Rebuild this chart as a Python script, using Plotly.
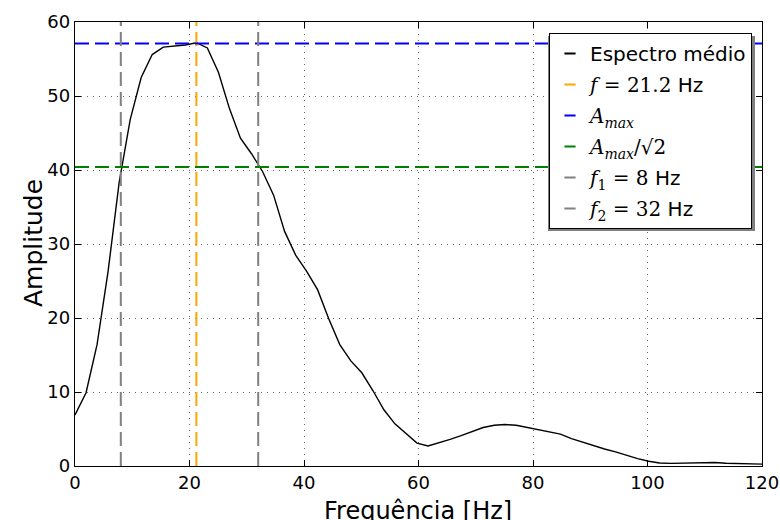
import plotly.graph_objects as go

# ---- data ----
freq = [0.0, 1.93, 3.85, 5.78, 7.71, 9.64, 11.56, 13.49, 15.42, 17.34,
        19.27, 21.2, 23.12, 25.05, 26.98, 28.9, 30.83, 32.76, 34.69, 36.61,
        38.54, 40.47, 42.39, 44.32, 46.25, 48.18, 50.1, 52.03, 53.96, 55.88,
        57.81, 59.74, 61.66, 63.59, 65.52, 67.44, 69.37, 71.3, 73.23, 75.15,
        77.08, 79.0, 80.94, 82.86, 84.79, 86.72, 88.64, 90.57, 92.5, 94.42,
        96.35, 98.28, 100.2, 102.1, 104.1, 106.0, 107.9, 109.8, 111.8, 113.7,
        115.6, 117.5, 119.5, 120.0]
amplitude = [6.9, 9.9, 16.4, 26.3, 38.3, 46.8, 52.5, 55.6, 56.6, 56.7,
             56.9, 57.2, 56.5, 53.2, 48.3, 44.3, 42.2, 39.8, 36.6, 31.7,
             28.5, 26.3, 23.8, 19.9, 16.4, 14.2, 12.6, 10.2, 7.6, 5.7,
             4.4, 3.1, 2.7, 3.1, 3.6, 4.1, 4.6, 5.2, 5.5, 5.6,
             5.5, 5.2, 5.0, 4.7, 4.3, 3.7, 3.2, 2.8, 2.3, 1.9,
             1.4, 1.0, 0.65, 0.4, 0.35, 0.38, 0.45, 0.5, 0.47, 0.38,
             0.32, 0.28, 0.25, 0.25]

f_peak = 21.2
a_max = 57.1
a_half = 40.4
f1 = 8
f2 = 32

x_ticks = [0, 20, 40, 60, 80, 100, 120]
y_ticks = [0, 10, 20, 30, 40, 50, 60]

x_title = "Frequência [Hz]"
y_title = "Amplitude"

x_lim = [x_ticks[0], x_ticks[-1]]
y_lim = [y_ticks[0], y_ticks[-1]]

FONT = "DejaVu Sans"
SERIF = "DejaVu Serif"
DASH = "14px,6px"

L, R, T, B = 75, 18, 22, 54
PW, PH = 780 - L - R, 520 - T - B


def px_x(p):
    return (p - L) / PW


def px_y(p):
    return 1 - (p - T) / PH


def m(s):
    return '<span style="font-family:%s">%s</span>' % (SERIF, s)


labels = [
    "Espectro médio",
    m("<i>f</i> = 21.2") + " Hz",
    m("<i>A</i><sub><i>max</i></sub>"),
    m("<i>A</i><sub><i>max</i></sub>/√2"),
    m("<i>f</i><sub>1</sub> = 8") + " Hz",
    m("<i>f</i><sub>2</sub> = 32") + " Hz",
]
colors = ["black", "#ffa500", "#0000ff", "#008000", "#808080", "#808080"]

fig = go.Figure()

fig.add_trace(go.Scatter(x=freq, y=amplitude, mode="lines",
                         line=dict(color="black", width=1.4), showlegend=False))
fig.add_trace(go.Scatter(x=[f_peak, f_peak], y=y_lim, mode="lines",
                         line=dict(color=colors[1], width=2, dash=DASH), showlegend=False))
fig.add_trace(go.Scatter(x=x_lim, y=[a_max, a_max], mode="lines",
                         line=dict(color=colors[2], width=2, dash=DASH), showlegend=False))
fig.add_trace(go.Scatter(x=x_lim, y=[a_half, a_half], mode="lines",
                         line=dict(color=colors[3], width=2, dash=DASH), showlegend=False))
fig.add_trace(go.Scatter(x=[f1, f1], y=y_lim, mode="lines",
                         line=dict(color=colors[4], width=2, dash=DASH), showlegend=False))
fig.add_trace(go.Scatter(x=[f2, f2], y=y_lim, mode="lines",
                         line=dict(color=colors[5], width=2, dash=DASH), showlegend=False))

for i, (lab, col) in enumerate(zip(labels, colors)):
    fig.add_trace(go.Scatter(x=[None], y=[None], mode="markers", name=lab,
                             legendgroup="g%d" % i,
                             marker=dict(symbol="line-ew", size=8,
                                         line=dict(color=col, width=2))))

# legend shadow
fig.add_shape(type="rect", xref="paper", yref="paper",
              x0=px_x(548), x1=px_x(755), y0=px_y(231), y1=px_y(36),
              fillcolor="#7f7f7f", line=dict(width=0), layer="above")

# axis titles
fig.add_annotation(text=x_title, xref="paper", yref="paper",
                   x=px_x(418), y=px_y(511), xanchor="center", yanchor="middle",
                   showarrow=False, font=dict(size=24, family=FONT, color="black"))
fig.add_annotation(text=y_title, xref="paper", yref="paper", textangle=-90,
                   x=px_x(33), y=px_y(243), xanchor="center", yanchor="middle",
                   showarrow=False, font=dict(size=25, family=FONT, color="black"))

fig.update_layout(
    width=780, height=520,
    margin=dict(l=L, r=R, t=T, b=B),
    paper_bgcolor="white", plot_bgcolor="white",
    font=dict(family=FONT, size=18, color="black"),
    legend=dict(x=px_x(752), xanchor="right", y=px_y(33), yanchor="top",
                bgcolor="white", bordercolor="black", borderwidth=1,
                font=dict(family=FONT, size=20, color="black"),
                tracegroupgap=2, itemwidth=30),
)

fig.update_xaxes(range=x_lim, tickvals=x_ticks, ticktext=[str(v) for v in x_ticks],
                 showline=True, linecolor="black", linewidth=1.3, mirror="ticks",
                 ticks="inside", ticklen=6, tickcolor="black", automargin=False,
                 showgrid=True, gridcolor="#666", gridwidth=1, griddash="1px,5px",
                 zeroline=False)
fig.update_yaxes(range=y_lim, tickvals=y_ticks, ticktext=[str(v) for v in y_ticks],
                 showline=True, linecolor="black", linewidth=1.3, mirror="ticks",
                 ticks="inside", ticklen=6, tickcolor="black", automargin=False,
                 showgrid=True, gridcolor="#666", gridwidth=1, griddash="1px,5px",
                 zeroline=False)

fig.write_html("out.html")
